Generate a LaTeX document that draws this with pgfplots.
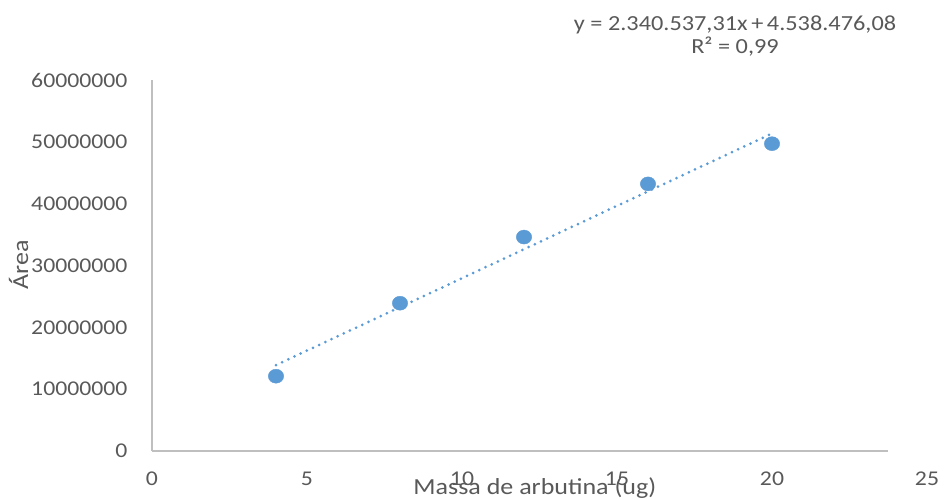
\documentclass[border=0pt]{standalone}
\usepackage{pgfplots}
\pgfplotsset{compat=1.18}
\usepackage{fontspec}
\setmainfont[FakeStretch=1.13]{Carlito}
\definecolor{txt}{HTML}{595959}
\definecolor{axl}{HTML}{BFBFBF}
\definecolor{blu}{HTML}{5B9BD5}
\begin{document}
\begin{tikzpicture}[x=1pt,y=1pt]
\path[use as bounding box] (0,0) rectangle (944,499);
\begin{axis}[
  at={(152pt,48pt)}, anchor=origin,
  scale only axis, width=775pt, height=371pt,
  xmin=0, xmax=25, ymin=0, ymax=60000000,
  axis x line*=bottom, axis y line*=left,
  x axis line style={-, draw=axl, line width=1.5pt, shorten >=39pt},
  y axis line style={-, draw=axl, line width=1.5pt},
  xtick={0,5,...,25}, ytick={0,10000000,...,60000000},
  major tick length=0pt,
  scaled y ticks=false,
  /pgf/number format/assume math mode=true,
  yticklabel={\pgfmathprintnumber[fixed,precision=0,set thousands separator={}]{\tick}},
  tick label style={font=\fontsize{21}{22}\selectfont, text=txt},
  xticklabel style={yshift=-17pt},
  yticklabel style={xshift=-21pt},
  xlabel={Massa de arbutina (ug)},
  ylabel={Área},
  label style={font=\fontsize{23}{24}\selectfont, text=txt},
  xlabel style={at={(axis description cs:0.494,-0.1)}, anchor=center},
  ylabel style={at={(axis description cs:-0.172,0.501)}, anchor=center, rotate=0},
  clip=false,
]
\addplot[blu, line width=3pt, line cap=round, dash pattern=on 0pt off 6.8pt]
  coordinates {(4,13900626) (20,51349223)};
\addplot[only marks, mark=*, mark size=7pt, mark options={fill=blu, draw=blu, xscale=1.1}]
  coordinates {(4,12100000) (8,23900000) (12,34600000) (16,43200000) (20,49700000)};
\end{axis}
\node[align=center, text=txt, font=\fontsize{21.5}{22.5}\selectfont, inner sep=0pt] at (735,463)
  {y = 2.340.537,31x\,+\,4.538.476,08\\R² = 0,99};
\end{tikzpicture}
\end{document}
